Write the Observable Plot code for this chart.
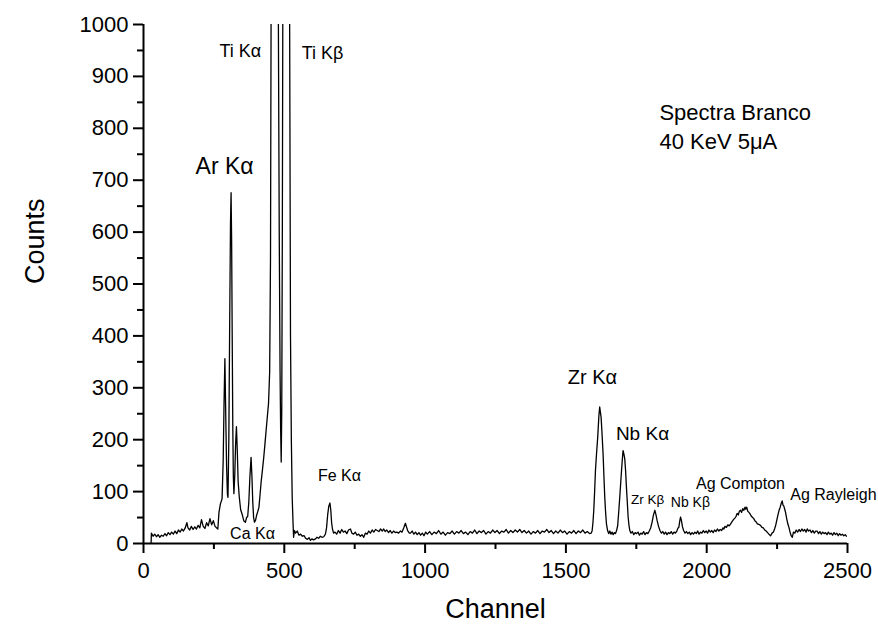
<!DOCTYPE html>
<html>
<head>
<meta charset="utf-8">
<script src="https://cdn.jsdelivr.net/npm/d3@7"></script>
<script src="https://cdn.jsdelivr.net/npm/@observablehq/plot@0.6"></script>
<style>
  html, body { margin: 0; padding: 0; background: #fff; }
  #chart { width: 878px; height: 626px; }
</style>
</head>
<body>
<div id="chart"></div>
<script>
// ---- Data: [channel, counts] ----
const spectrum = [
  [27,0],[28,20],[34,14],[40,18],[46,13],[52,17],[58,12],[64,16],[70,14],[76,19],[82,15],[88,21],
  [94,17],[100,22],[106,18],[112,24],[118,19],[124,26],[130,22],[136,28],[142,24],[148,30],[154,40],
  [158,30],[164,26],[170,33],[176,27],[182,32],[188,28],[194,35],[200,30],[206,46],[212,33],[218,29],
  [224,40],[230,34],[236,48],[242,36],[248,44],[254,33],[260,30],[264,28],[268,60],[273,76],[279,86],
  [283,160],[286,270],[289,356],[292,250],[295,150],[298,95],[300,89],[303,200],[306,420],[309,620],
  [311,676],[313,580],[315,400],[317,230],[319,130],[321,96],[324,130],[327,190],[330,225],[333,180],
  [336,120],[340,90],[345,65],[350,57],[356,44],[362,41],[366,50],[370,52],[374,80],[378,130],[382,166],
  [385,130],[388,80],[391,50],[394,41],[398,45],[402,55],[406,62],[410,70],[414,95],[418,120],[422,140],
  [427,166],[431,190],[435,215],[439,240],[444,270],[448,330],[451,550],[453,1000],[455,1600],[460,3000],
  [466,5000],[472,3000],[476,1600],[479,1000],[482,600],[485,330],[487,220],[489,157],[491,260],[493,600],
  [495,1100],[499,2000],[507,2600],[514,2000],[518,1200],[520,800],[522,400],[525,200],[528,90],[531,40],
  [533,12],[536,25],[540,20],[546,24],[552,16],[558,18],[564,14],[570,15],[576,10],[582,8],[588,11],
  [593,6],[598,9],[604,7],[611,9],[616,12],[622,10],[628,14],[634,12],[640,13],[646,18],[650,30],
  [654,55],[658,72],[662,78],[665,65],[668,40],[671,28],[675,20],[680,22],[686,18],[692,25],[698,20],
  [704,27],[710,22],[716,24],[722,19],[728,26],[735,28],[740,20],[746,18],[752,22],[758,16],[764,18],
  [770,14],[776,17],[782,12],[788,20],[794,18],[800,24],[806,20],[812,26],[818,22],[824,27],[830,25],
  [836,23],[842,28],[848,24],[853,28],[858,23],[864,26],[870,21],[876,25],[882,20],[888,24],[894,21],
  [900,22],[906,20],[912,24],[918,22],[924,30],[930,39],[934,32],[938,25],[944,20],[948,20],[954,24],
  [960,18],[966,22],[972,17],[978,21],[984,16],[990,20],[996,15],[1002,22],[1008,18],[1016,23],[1024,17],
  [1032,22],[1040,19],[1048,25],[1056,18],[1064,22],[1072,16],[1080,21],[1088,19],[1096,24],[1104,18],
  [1112,23],[1120,20],[1128,25],[1136,19],[1144,22],[1152,17],[1160,23],[1168,20],[1176,26],[1184,19],
  [1192,24],[1200,21],[1208,25],[1216,18],[1224,23],[1232,20],[1240,26],[1248,21],[1256,25],[1264,19],
  [1272,24],[1280,22],[1288,27],[1296,20],[1304,25],[1312,21],[1320,26],[1328,22],[1336,27],[1344,21],
  [1352,25],[1360,20],[1368,24],[1376,18],[1384,23],[1392,20],[1400,25],[1408,19],[1416,24],[1424,22],
  [1432,27],[1440,21],[1448,25],[1456,19],[1464,24],[1472,20],[1480,26],[1488,21],[1496,24],[1504,18],
  [1512,23],[1520,20],[1528,25],[1536,19],[1544,24],[1552,21],[1560,26],[1568,20],[1576,23],[1584,19],
  [1590,20],[1593,24],[1596,40],[1599,64],[1602,100],[1605,141],[1609,175],[1613,205],[1617,245],
  [1620,263],[1622,255],[1625,243],[1628,215],[1632,173],[1635,130],[1638,89],[1641,60],[1644,38],
  [1648,25],[1652,19],[1656,24],[1660,18],[1664,22],[1668,17],[1672,21],[1676,19],[1680,25],[1684,35],
  [1688,64],[1692,95],[1696,128],[1700,160],[1703,179],[1706,172],[1709,163],[1712,140],[1715,108],
  [1718,80],[1721,51],[1724,35],[1727,25],[1731,20],[1736,23],[1741,17],[1746,21],[1751,19],[1756,22],
  [1761,16],[1766,20],[1771,18],[1776,23],[1781,17],[1786,21],[1791,19],[1796,24],[1801,30],[1806,41],
  [1811,55],[1816,64],[1820,55],[1824,44],[1829,33],[1834,25],[1839,20],[1844,23],[1849,18],[1854,22],
  [1859,17],[1864,21],[1869,19],[1874,23],[1879,18],[1884,22],[1889,20],[1894,24],[1898,30],[1901,31],
  [1904,42],[1907,51],[1910,45],[1914,32],[1918,25],[1923,20],[1928,23],[1933,19],[1938,22],[1943,17],
  [1948,21],[1953,18],[1958,22],[1963,19],[1968,24],[1973,18],[1978,22],[1983,20],[1988,25],[1993,21],
  [1998,24],[2003,20],[2008,26],[2013,22],[2018,25],[2023,21],[2028,26],[2033,23],[2038,28],[2043,24],
  [2048,27],[2053,25],[2058,30],[2061,28],[2065,33],[2070,31],[2075,36],[2080,34],[2085,38],[2090,42],
  [2095,46],[2100,49],[2104,52],[2108,58],[2112,55],[2116,62],[2120,64],[2124,60],[2128,67],[2132,64],
  [2136,70],[2139,66],[2142,70],[2146,62],[2150,60],[2154,57],[2158,53],[2163,50],[2167,48],[2171,44],
  [2175,42],[2180,38],[2185,37],[2191,35],[2196,31],[2201,30],[2206,26],[2211,24],[2216,21],[2221,18],
  [2227,15],[2232,20],[2237,22],[2241,28],[2245,35],[2249,45],[2253,55],[2257,64],[2261,70],[2265,78],
  [2268,82],[2271,74],[2274,72],[2277,66],[2280,60],[2284,48],[2288,38],[2292,31],[2296,22],[2300,15],
  [2304,12],[2308,22],[2313,20],[2318,26],[2323,22],[2328,27],[2333,23],[2338,28],[2343,24],[2348,27],
  [2353,22],[2357,28],[2362,24],[2367,26],[2372,21],[2377,25],[2382,20],[2387,24],[2392,24],[2397,19],
  [2402,23],[2407,18],[2412,22],[2417,19],[2422,21],[2427,17],[2432,22],[2437,18],[2442,20],[2447,16],
  [2452,21],[2457,17],[2462,20],[2467,15],[2472,19],[2477,16],[2482,18],[2487,15],[2492,17],[2496,14]
];

// ---- Axis ticks ----
const xTicks = [0, 500, 1000, 1500, 2000, 2500];
const xMinorTicks = [250, 750, 1250, 1750, 2250];
const yTicks = [0, 100, 200, 300, 400, 500, 600, 700, 800, 900, 1000];
const yMinorTicks = [50, 150, 250, 350, 450, 550, 650, 750, 850, 950];

// ---- Peak annotations (label, channel, counts) ----
const annotLabels  = ["Ti Kα", "Ti Kβ", "Ar Kα", "Fe Kα", "Ca Kα", "Zr Kα", "Nb Kα", "Zr Kβ", "Nb Kβ", "Ag Compton", "Ag Rayleigh"];
const annotChannel = [344, 636, 288, 696, 387, 1594, 1772, 1790, 1942, 2120, 2450];
const annotCounts  = [948, 944, 726, 131, 19, 320, 212, 85, 79, 114, 94];
const noteLines    = ["Spectra Branco", "40 KeV 5μA"];
const noteChannel  = [1832, 1832];
const noteCounts   = [830, 773];

// styles (font size per label)
const annotSize = {"Ti Kα": 18, "Ti Kβ": 18, "Ar Kα": 23, "Fe Kα": 16, "Ca Kα": 16, "Zr Kα": 20,
  "Nb Kα": 19, "Zr Kβ": 13.5, "Nb Kβ": 14, "Ag Compton": 16, "Ag Rayleigh": 16};

const annots = annotLabels.map((t, i) => ({label: t, x: annotChannel[i], y: annotCounts[i]}));
const notes = noteLines.map((t, i) => ({label: t, x: noteChannel[i], y: noteCounts[i]}));

const sizes = [...new Set(Object.values(annotSize))];
const annotMarks = sizes.map(s => Plot.text(annots.filter(d => annotSize[d.label] === s), {
  x: "x", y: "y", text: "label", fontSize: s, textAnchor: "middle", fill: "black"
}));

const intFmt = d3.format("d");

const chart = Plot.plot({
  width: 878,
  height: 626,
  marginLeft: 143,
  marginRight: 31,
  marginTop: 24,
  marginBottom: 83,
  x: {domain: [0, 2500]},
  y: {domain: [0, 1000]},
  style: {fontFamily: "'Liberation Sans', Arial, sans-serif", background: "white", color: "black"},
  marks: [
    Plot.axisX({ticks: xTicks, tickSize: 10, tickPadding: 9, fontSize: 22, strokeWidth: 2, tickFormat: intFmt, label: null}),
    Plot.axisX({ticks: xMinorTicks, tickSize: 6, tickFormat: () => "", strokeWidth: 2, label: null}),
    Plot.axisY({ticks: yTicks, tickSize: 10, tickPadding: 5, fontSize: 22, strokeWidth: 2, tickFormat: intFmt, label: null}),
    Plot.axisY({ticks: yMinorTicks, tickSize: 6, tickFormat: () => "", strokeWidth: 2, label: null}),
    Plot.ruleX([0], {stroke: "black", strokeWidth: 2}),
    Plot.ruleY([0], {stroke: "black", strokeWidth: 2}),
    Plot.line(spectrum, {x: d => d[0], y: d => d[1], stroke: "black", strokeWidth: 1.3, clip: true}),
    ...annotMarks,
    Plot.text(notes, {x: "x", y: "y", text: "label", fontSize: 22, textAnchor: "start", fill: "black"}),
    Plot.text(["Channel"], {frameAnchor: "bottom", dy: 74, fontSize: 27, fill: "black"}),
    Plot.text(["Counts"], {frameAnchor: "left", dx: -108, rotate: -90, fontSize: 27, fill: "black"})
  ]
});
document.getElementById("chart").appendChild(chart);
</script>
</body>
</html>
